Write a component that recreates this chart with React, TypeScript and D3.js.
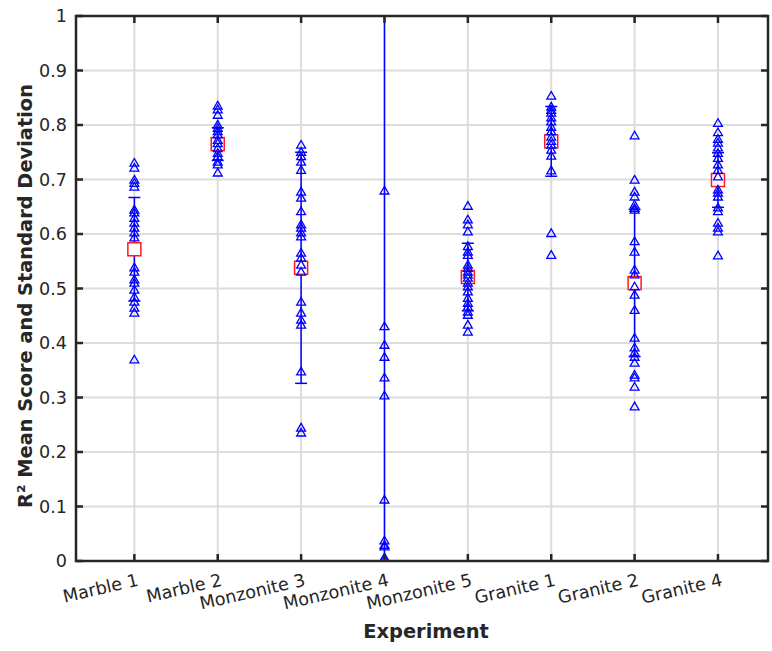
import React from "react";
import * as d3 from "d3";

const categories = ["Marble 1", "Marble 2", "Monzonite 3", "Monzonite 4", "Monzonite 5", "Granite 1", "Granite 2", "Granite 4"];

// per-run R² scores for each experiment
const marble1 = [0.730, 0.721, 0.699, 0.693, 0.686, 0.644, 0.639, 0.629, 0.620, 0.611, 0.602, 0.593, 0.538, 0.530, 0.516, 0.510, 0.497, 0.484, 0.475, 0.464, 0.455, 0.369];
const marble2 = [0.835, 0.828, 0.818, 0.800, 0.794, 0.788, 0.782, 0.772, 0.766, 0.757, 0.748, 0.742, 0.732, 0.727, 0.712];
const monzonite3 = [0.763, 0.750, 0.742, 0.732, 0.717, 0.677, 0.666, 0.641, 0.617, 0.611, 0.602, 0.595, 0.565, 0.556, 0.543, 0.530, 0.475, 0.455, 0.442, 0.433, 0.347, 0.244, 0.235];
const monzonite4 = [0.679, 0.430, 0.396, 0.374, 0.336, 0.303, 0.112, 0.037, 0.029, 0.026, 0.006, 0.002, -0.8, -1.5, -2.2];
const monzonite5 = [0.651, 0.626, 0.617, 0.604, 0.577, 0.567, 0.561, 0.543, 0.537, 0.530, 0.525, 0.519, 0.510, 0.503, 0.494, 0.482, 0.473, 0.466, 0.457, 0.451, 0.433, 0.420];
const granite1 = [0.853, 0.833, 0.827, 0.822, 0.813, 0.806, 0.796, 0.788, 0.778, 0.770, 0.763, 0.754, 0.743, 0.716, 0.601, 0.561];
const granite2 = [0.780, 0.699, 0.677, 0.668, 0.653, 0.647, 0.644, 0.586, 0.567, 0.534, 0.525, 0.503, 0.488, 0.460, 0.409, 0.391, 0.382, 0.374, 0.363, 0.341, 0.336, 0.319, 0.283];
const granite4 = [0.803, 0.786, 0.774, 0.767, 0.758, 0.748, 0.739, 0.727, 0.717, 0.705, 0.681, 0.675, 0.668, 0.648, 0.641, 0.620, 0.611, 0.604, 0.560];

const means = [0.572, 0.765, 0.538, -0.5, 0.521, 0.770, 0.510, 0.699];
const stds = [0.095, 0.03, 0.212, 1.6, 0.062, 0.064, 0.135, 0.05];
const yTicks = [0, 0.1, 0.2, 0.3, 0.4, 0.5, 0.6, 0.7, 0.8, 0.9, 1];

const runs = [marble1, marble2, monzonite3, monzonite4, monzonite5, granite1, granite2, granite4];

const App = () => {
  const width = 772, height = 651;
  const margin = { top: 16, right: 4, bottom: 90, left: 76 };
  const innerW = width - margin.left - margin.right;
  const innerH = height - margin.top - margin.bottom;

  const x = d3.scaleLinear().domain([0.3, 8.6]).range([0, innerW]);
  const y = d3.scaleLinear().domain([0, 1]).range([innerH, 0]);

  const tri = d3.symbol().type(d3.symbolTriangle).size(34)();
  const axisColor = "#262626";
  const blue = "#0000ff";
  const font = "DejaVu Sans, sans-serif";

  return (
    <svg width={width} height={height} style={{ position: "absolute", left: 0, top: 0 }}>
      <rect width={width} height={height} fill="#fff" />
      <defs>
        <clipPath id="plot">
          <rect x={0} y={0} width={innerW} height={innerH} />
        </clipPath>
      </defs>
      <g transform={`translate(${margin.left},${margin.top})`}>
        {/* grid */}
        {yTicks.map((t) => (
          <line key={"gy" + t} x1={0} x2={innerW} y1={y(t)} y2={y(t)} stroke="#dcdcdc" strokeWidth={2} />
        ))}
        {categories.map((c, i) => (
          <line key={"gx" + c} x1={x(i + 1)} x2={x(i + 1)} y1={0} y2={innerH} stroke="#dcdcdc" strokeWidth={2} />
        ))}

        <g clipPath="url(#plot)">
          {/* error bars */}
          {means.map((m, i) => {
            const cx = x(i + 1);
            const top = y(m + stds[i]);
            const bot = y(m - stds[i]);
            return (
              <g key={"eb" + i} stroke={blue} strokeWidth={1.5}>
                <line x1={cx} x2={cx} y1={top} y2={bot} />
                <line x1={cx - 6} x2={cx + 6} y1={top} y2={top} />
                <line x1={cx - 6} x2={cx + 6} y1={bot} y2={bot} />
              </g>
            );
          })}
          {/* mean markers */}
          {means.map((m, i) => (
            <rect key={"m" + i} x={x(i + 1) - 6.5} y={y(m) - 6.5} width={13} height={13} fill="#fff" stroke="#ff1a1a" strokeWidth={1.5} />
          ))}
          {/* individual runs */}
          {runs.map((vals, i) =>
            vals.map((v, j) => (
              <path key={`p${i}-${j}`} d={tri!} transform={`translate(${x(i + 1)},${y(v) + 0.5})`} fill="none" stroke={blue} strokeWidth={1.3} />
            ))
          )}
        </g>

        {/* axes box */}
        <rect x={0} y={0} width={innerW} height={innerH} fill="none" stroke={axisColor} strokeWidth={2.5} />
        {yTicks.map((t) => (
          <g key={"yt" + t}>
            <line x1={0} x2={7} y1={y(t)} y2={y(t)} stroke={axisColor} strokeWidth={2.5} />
            <line x1={innerW} x2={innerW - 7} y1={y(t)} y2={y(t)} stroke={axisColor} strokeWidth={2.5} />
            <text x={-9} y={y(t)} dy="0.36em" textAnchor="end" fontSize={17.6} fontFamily={font} fill={axisColor}>
              {d3.format("~g")(t)}
            </text>
          </g>
        ))}
        {categories.map((c, i) => (
          <g key={"xt" + c}>
            <line x1={x(i + 1)} x2={x(i + 1)} y1={innerH} y2={innerH - 7} stroke={axisColor} strokeWidth={2.5} />
            <line x1={x(i + 1)} x2={x(i + 1)} y1={0} y2={7} stroke={axisColor} strokeWidth={2.5} />
            <text transform={`translate(${x(i + 1) + 2},${innerH + 11}) rotate(-13)`} dy="0.78em" textAnchor="end" fontSize={17.6} fontFamily={font} fill={axisColor}>
              {c}
            </text>
          </g>
        ))}
        <text x={426 - margin.left} y={638 - margin.top} textAnchor="middle" fontSize={19.4} fontWeight="bold" fontFamily={font} fill={axisColor}>
          Experiment
        </text>
        <text transform={`translate(${32 - margin.left},${296 - margin.top}) rotate(-90)`} textAnchor="middle" fontSize={19.4} fontWeight="bold" fontFamily={font} fill={axisColor}>
          R² Mean Score and Standard Deviation
        </text>
      </g>
    </svg>
  );
};

export default App;
